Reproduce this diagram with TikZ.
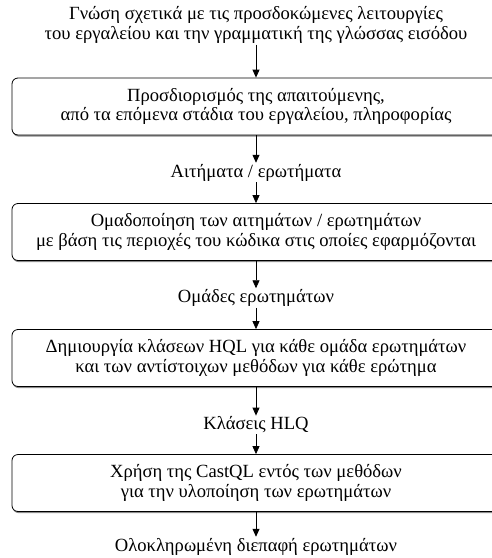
\documentclass[tikz,border=0pt]{standalone}
\usepackage{fontspec}
\setmainfont{Liberation Serif}
\usetikzlibrary{arrows.meta,positioning,shadows}

\begin{document}
\begin{tikzpicture}[
  x=1pt, y=1pt,
  font=\fontsize{18.6}{19.5}\selectfont,
  on grid,
  stagebox/.style={draw, fill=white, rounded corners=6pt, align=center, line width=0.8pt,
    minimum width=488pt, minimum height=57pt,
    drop shadow={shadow xshift=0.6pt, shadow yshift=-1.6pt, fill=black!45, opacity=1}},
  lbl/.style={align=center, inner sep=1pt},
  arr/.style={-{Triangle[length=8pt, width=7pt]}, line width=0.8pt},
]
\useasboundingbox (0,0) rectangle (491,-558);
\node[lbl] (knowledge) at (256,-25)
  {Γνώση σχετικά με τις προσδοκώμενες λειτουργίες\\ του εργαλείου και την γραμματική της γλώσσας εισόδου};
\node[stagebox, below=81.5pt of knowledge] (info)
  {Προσδιορισμός της απαιτούμενης,\\ από τα επόμενα στάδια του εργαλείου, πληροφορίας};
\node[lbl, below=66pt of info] (requests) {Αιτήματα / ερωτήματα};
\node[stagebox, below=59.5pt of requests] (grouping)
  {Ομαδοποίηση των αιτημάτων / ερωτημάτων\\ με βάση τις περιοχές του κώδικα στις οποίες εφαρμόζονται};
\node[lbl, below=66pt of grouping] (groups) {Ομάδες ερωτημάτων};
\node[stagebox, below=60pt of groups] (hqlcls)
  {Δημιουργία κλάσεων HQL για κάθε ομάδα ερωτημάτων\\ και των αντίστοιχων μεθόδων για κάθε ερώτημα};
\node[lbl, below=67pt of hqlcls] (classes) {Κλάσεις HLQ};
\node[stagebox, below=58pt of classes] (castql)
  {Χρήση της CastQL εντός των μεθόδων\\ για την υλοποίηση των ερωτημάτων};
\node[lbl, below=63.5pt of castql] (iface) {Ολοκληρωμένη διεπαφή ερωτημάτων};
\draw[arr] (knowledge) -- (info);
\draw[arr] (info) -- (requests);
\draw[arr] (requests) -- (grouping);
\draw[arr] (grouping) -- (groups);
\draw[arr] (groups) -- (hqlcls);
\draw[arr] (hqlcls) -- (classes);
\draw[arr] (classes) -- (castql);
\draw[arr] (castql) -- (iface);
\end{tikzpicture}
\end{document}
